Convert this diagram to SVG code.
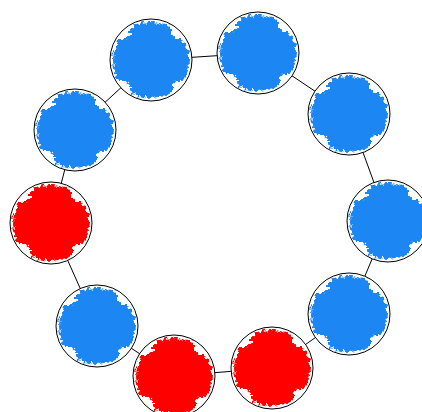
<svg xmlns="http://www.w3.org/2000/svg" width="422" height="412" viewBox="0 0 422 412">
<style>
.edge{stroke:#000;stroke-width:1;fill:none}
.ring{fill:#fff;stroke:#000;stroke-width:1}
.blue{fill:#1a86f2;filter:url(#rough)}
.red{fill:#ff0000;filter:url(#rough)}
</style>
<defs>
<clipPath id="cc"><circle cx="0" cy="0" r="38"/></clipPath>
<filter id="rough" x="-20%" y="-20%" width="140%" height="140%">
<feTurbulence type="fractalNoise" baseFrequency="0.3" numOctaves="2" seed="5" result="n"/>
<feDisplacementMap in="SourceGraphic" in2="n" scale="7" xChannelSelector="R" yChannelSelector="G"/>
</filter>
<g id="blob">
<g clip-path="url(#cc)">
<circle cx="0" cy="0" r="33"/>
<rect x="-21" y="-42" width="42" height="84" rx="6"/>
<rect x="-42" y="-21" width="84" height="42" rx="6"/>
</g>
</g>
</defs>
<rect width="422" height="412" fill="#fff"/>
<g id="connectors">
<line class="edge" x1="151" y1="60" x2="258" y2="53"/>
<line class="edge" x1="258" y1="53" x2="349" y2="114"/>
<line class="edge" x1="349" y1="114" x2="388" y2="221"/>
<line class="edge" x1="388" y1="221" x2="349" y2="314"/>
<line class="edge" x1="349" y1="314" x2="272" y2="368"/>
<line class="edge" x1="272" y1="368" x2="174" y2="376"/>
<line class="edge" x1="174" y1="376" x2="97" y2="326"/>
<line class="edge" x1="97" y1="326" x2="51" y2="223"/>
<line class="edge" x1="51" y1="223" x2="75" y2="130"/>
<line class="edge" x1="75" y1="130" x2="151" y2="60"/>
</g>
<g id="n1"><circle class="ring" cx="151" cy="60" r="41"/><use href="#blob" class="blue" transform="translate(151 60)"/></g>
<g id="n2"><circle class="ring" cx="258" cy="53" r="41"/><use href="#blob" class="blue" transform="translate(258 53)"/></g>
<g id="n3"><circle class="ring" cx="349" cy="114" r="41"/><use href="#blob" class="blue" transform="translate(349 114)"/></g>
<g id="n4"><circle class="ring" cx="388" cy="221" r="41"/><use href="#blob" class="blue" transform="translate(388 221)"/></g>
<g id="n5"><circle class="ring" cx="349" cy="314" r="41"/><use href="#blob" class="blue" transform="translate(349 314)"/></g>
<g id="n6"><circle class="ring" cx="272" cy="368" r="41"/><use href="#blob" class="red" transform="translate(272 368)"/></g>
<g id="n7"><circle class="ring" cx="174" cy="376" r="41"/><use href="#blob" class="red" transform="translate(174 376)"/></g>
<g id="n8"><circle class="ring" cx="97" cy="326" r="41"/><use href="#blob" class="blue" transform="translate(97 326)"/></g>
<g id="n9"><circle class="ring" cx="51" cy="223" r="41"/><use href="#blob" class="red" transform="translate(51 223)"/></g>
<g id="n10"><circle class="ring" cx="75" cy="130" r="41"/><use href="#blob" class="blue" transform="translate(75 130)"/></g>
</svg>
